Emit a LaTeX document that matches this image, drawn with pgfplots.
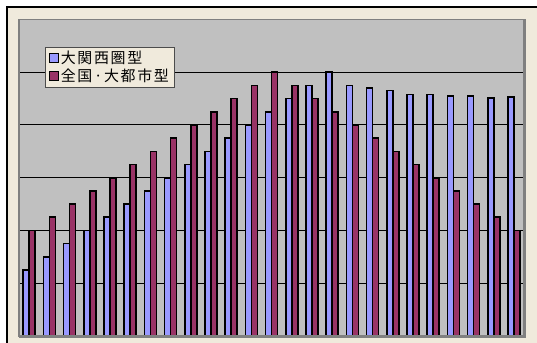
\documentclass[border=0pt]{standalone}
\usepackage{pgfplots}
\pgfplotsset{compat=1.18}
\usepackage{fontspec}
\newfontfamily\jp[LetterSpace=11]{Noto Sans CJK JP}
\definecolor{bblue}{HTML}{9999FF}
\definecolor{bred}{HTML}{993366}
\definecolor{plotgray}{HTML}{C0C0C0}
\definecolor{cream}{HTML}{F0EADC}
\begin{document}
\begin{tikzpicture}[x=1bp,y=1bp]
\path[use as bounding box] (0,0) rectangle (537,342);
\fill[white] (0,0) rectangle (537,342);
\fill[cream] (7,-5) rectangle (545,335);
\draw[line width=2.2bp] (7,-5) -- (7,335) -- (545,335);
\begin{axis}[
  at={(19bp,6bp)}, anchor=south west,
  scale only axis, width=505bp, height=316.6bp,
  xmin=-0.5, xmax=24.5, ymin=0, ymax=6,
  ybar=0pt, bar width=6bp,
  axis background/.style={fill=plotgray},
  axis line style={draw=gray, line width=1.2bp},
  xtick=\empty, ytick={1,2,3,4,5}, yticklabels={}, major tick length=0pt,
  ymajorgrids, grid style={black, line width=0.9bp},
  legend cell align=left,
  legend style={at={(0.0509,0.9138)}, anchor=north west, fill=cream,
    draw=gray!60!black, line width=0.8bp,
    font=\jp\fontsize{15}{18}\selectfont,
    inner xsep=4bp, inner ysep=2bp,
    nodes={inner ysep=2bp},
    /tikz/every even column/.append style={column sep=4bp}},
]
\addplot[draw=black, line width=1.6bp, fill=bblue,
  legend image code/.code={\draw[line width=1.3bp, draw=black, fill=bblue] (0bp,-4.5bp) rectangle (8.5bp,4.5bp);}]
  coordinates {(0,1.25) (1,1.5) (2,1.75) (3,2) (4,2.25) (5,2.5) (6,2.75) (7,3) (8,3.25) (9,3.5) (10,3.75) (11,4) (12,4.25) (13,4.5) (14,4.75) (15,5) (16,4.75) (17,4.7) (18,4.65) (19,4.58) (20,4.58) (21,4.55) (22,4.55) (23,4.51) (24,4.53)};
\addlegendentry{大関西圏型}
\addplot[draw=black, line width=1.6bp, fill=bred,
  legend image code/.code={\draw[line width=1.3bp, draw=black, fill=bred] (0bp,-4.5bp) rectangle (8.5bp,4.5bp);}]
  coordinates {(0,2) (1,2.25) (2,2.5) (3,2.75) (4,3) (5,3.25) (6,3.5) (7,3.75) (8,4) (9,4.25) (10,4.5) (11,4.75) (12,5) (13,4.75) (14,4.5) (15,4.25) (16,4) (17,3.75) (18,3.5) (19,3.25) (20,3) (21,2.75) (22,2.5) (23,2.25) (24,2)};
\addlegendentry{全国·大都市型}
\end{axis}
\draw[gray, line width=2.5bp] (19,5.5) -- (524.5,5.5) -- (524.5,322.6);
\end{tikzpicture}
\end{document}
